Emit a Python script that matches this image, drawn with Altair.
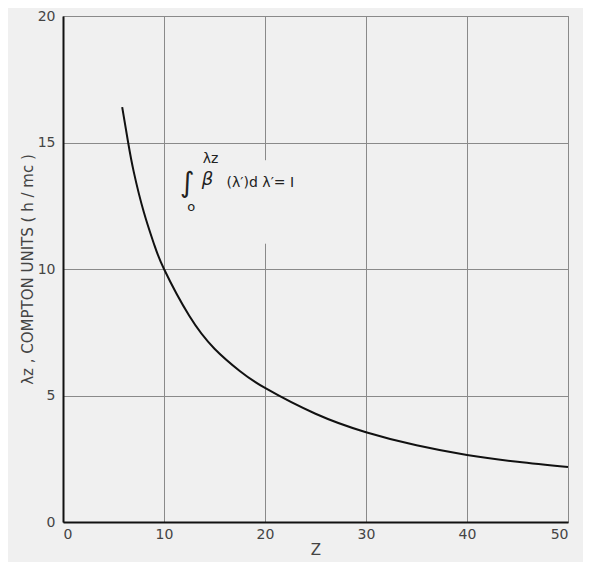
import altair as alt
import pandas as pd

# Curve readings
z_vals = [5.86, 6.45, 7, 8, 9, 10, 12.5, 15, 17.5, 20, 25, 30, 35, 40, 45, 50]
lam_vals = [16.4, 15.0, 13.85, 12.25, 11.0, 10.0, 8.15, 6.85, 5.97, 5.3, 4.28, 3.55, 3.03, 2.65, 2.38, 2.17]

x_ticks = [0, 10, 20, 30, 40, 50]
y_ticks = [0, 5, 10, 15, 20]

# annotation pieces: text, x, y, font size, style
ann_text = ["∫", "o", "λz", "β", "(λ′)d λ′= I"]
ann_x = [12.3, 12.7, 14.6, 14.3, 16.2]
ann_y = [13.35, 12.45, 14.35, 13.5, 13.4]
ann_size = [28, 13, 14, 18, 14]
ann_align = ["center", "center", "center", "center", "left"]

bg = "#f0f0f0"

df = pd.DataFrame({"Z": z_vals, "lam": lam_vals})

xs = alt.Scale(domain=[0, 50], nice=False)
ys = alt.Scale(domain=[0, 20], nice=False)

line = alt.Chart(df).mark_line(color="#111", strokeWidth=2, interpolate="natural").encode(
    x=alt.X("Z:Q", scale=xs, title="Z",
            axis=alt.Axis(values=x_ticks, format="d")),
    y=alt.Y("lam:Q", scale=ys, title="λz ,  COMPTON UNITS  ( h / mc )",
            axis=alt.Axis(values=y_ticks, format="d")),
)

# gap in the grid line behind the label
gap = alt.Chart(pd.DataFrame({"x1": [19.6], "x2": [20.4], "y1": [11.0], "y2": [14.3]})).mark_rect(
    color=bg).encode(
    x=alt.X("x1:Q", scale=xs), x2="x2:Q",
    y=alt.Y("y1:Q", scale=ys), y2="y2:Q")

layers = [gap, line]
for t, x, y, s, a in zip(ann_text, ann_x, ann_y, ann_size, ann_align):
    layers.append(
        alt.Chart(pd.DataFrame({"t": [t], "x": [x], "y": [y]})).mark_text(
            fontSize=s, align=a, baseline="middle", color="#222",
            font="DejaVu Sans", fontStyle="italic" if t in ("∫", "β") else "normal"
        ).encode(x=alt.X("x:Q", scale=xs), y=alt.Y("y:Q", scale=ys), text="t:N")
    )

chart = alt.layer(*layers).properties(
    width=505, height=506,
    autosize=alt.AutoSizeParams(type="none"),
    padding={"left": 55, "top": 8, "right": 15, "bottom": 40},
    background=bg,
).configure_view(
    stroke="#888", strokeWidth=1, fill=bg
).configure_axis(
    domainColor="#111", domainWidth=2, ticks=False,
    gridColor="#8a8a8a", gridWidth=1,
    labelFont="DejaVu Sans", labelFontSize=14, labelColor="#444",
    titleFont="DejaVu Sans", titleFontSize=15, titleColor="#444", titleFontWeight="normal",
).configure_axisX(
    labelPadding=5, titlePadding=1
).configure_axisY(
    labelPadding=8, titlePadding=2
)

chart.save("out.html", embed_options={"renderer": "svg", "actions": False})
